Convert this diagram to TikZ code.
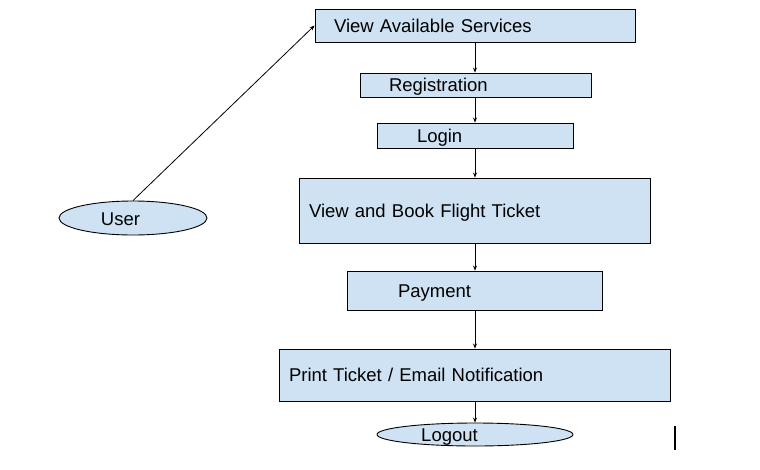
\documentclass[tikz,border=0pt]{standalone}
\usepackage{fontspec}
\setmainfont{Liberation Sans}
\usetikzlibrary{shapes.geometric,arrows.meta}
\definecolor{boxblue}{HTML}{CFE2F3}
\tikzset{
  stepbox/.style n args={3}{draw=black, fill=boxblue, line width=0.9pt, rectangle,
    minimum width=#1, minimum height=#2, inner ysep=0pt, inner xsep=#3,
    text width=#1-2*#3, align=left, font=\fontsize{18.5}{21}\selectfont,
    text height=13.3pt, text depth=-1.2pt},
  oval/.style 2 args={draw=black, fill=boxblue, line width=0.9pt, ellipse,
    minimum width=#1, minimum height=#2, inner sep=0pt},
  lbl/.style={inner sep=0pt, font=\fontsize{18.5}{21}\selectfont, text height=13.3pt, text depth=-1.2pt},
  arr/.style={draw=black, line width=0.8pt, -{Stealth[length=5pt,width=4pt]}}
}
\begin{document}
\begin{tikzpicture}[x=1pt,y=-1pt]
\useasboundingbox (0,0) rectangle (760,469);
\node[stepbox={320pt}{33pt}{19pt}] (vas) at (475,25.5) {View Available Services};
\node[stepbox={231pt}{24pt}{29pt}] (reg) at (475.5,85) {Registration};
\node[stepbox={196pt}{25pt}{40pt}] (login) at (475,135.5) {Login};
\node[stepbox={351pt}{65pt}{10pt}] (book) at (474.5,210.5) {View and Book Flight Ticket};
\node[stepbox={255pt}{39pt}{51pt}] (pay) at (474.5,290.5) {Payment};
\node[stepbox={391pt}{52pt}{10pt}] (print) at (474.5,375) {Print Ticket / Email Notification};
\node[oval={196pt}{23pt}] (logout) at (475,434.5) {};
\node[lbl] (logoutlbl) at (449.5,434.5) {Logout};
\node[oval={148pt}{34pt}] (user) at (133,218) {};
\node[lbl] (userlbl) at (120.5,218.5) {User};
\draw[arr] (user.north) -- (vas.west);
\draw[arr] (vas.south -| 475,0) -- (reg.north -| 475,0);
\draw[arr] (reg.south -| 475,0) -- (login.north -| 475,0);
\draw[arr] (login.south -| 475,0) -- (book.north -| 475,0);
\draw[arr] (book.south -| 475,0) -- (pay.north -| 475,0);
\draw[arr] (pay.south -| 475,0) -- (print.north -| 475,0);
\draw[arr] (print.south -| 475,0) -- (logout.north -| 475,0);
\coordinate (bartop) at (674.5,426);
\coordinate (barbot) at (674.5,450);
\draw[line width=2pt] (bartop) -- (barbot);
\end{tikzpicture}
\end{document}
